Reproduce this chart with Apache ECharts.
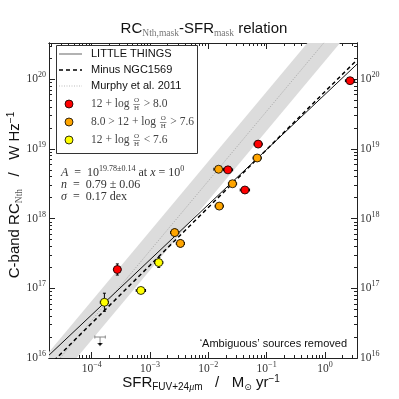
<!DOCTYPE html>
<html><head><meta charset="utf-8">
<script src="https://cdn.jsdelivr.net/npm/echarts@6/dist/echarts.min.js"></script>
<style>html,body{margin:0;padding:0;background:#fff}#c{width:399px;height:399px}</style>
</head><body><div id="c"></div>
<script>
// ---------------- data ----------------
const redSFR   = [2.70, 0.0716, 0.0217, 0.0424, 2.75e-4];
const redRC    = [9.5e19, 1.17e19, 5.0e18, 2.57e18, 1.86e17];
const redXerr  = [0.08, 0.07, 0.08, 0.08, 0.06];
const redYerr  = [0.03, 0.04, 0.03, 0.03, 0.08];

const orangeSFR  = [0.0689, 0.0150, 0.0260, 0.0154, 2.65e-3, 3.32e-3];
const orangeRC   = [7.4e18, 5.1e18, 3.16e18, 1.51e18, 6.3e17, 4.4e17];
const orangeXerr = [0.07, 0.08, 0.07, 0.07, 0.07, 0.07];
const orangeYerr = [0.03, 0.03, 0.03, 0.03, 0.05, 0.05];

const yellowSFR  = [1.41e-3, 6.97e-4, 1.65e-4];
const yellowRC   = [2.34e17, 9.3e16, 6.3e16];
const yellowXerr = [0.07, 0.08, 0.07];
const yellowYerr = [0.07, 0.04, 0.13];

const limitSFR  = [1.39e-4];
const limitRC   = [2.0e16];
const limitXerr = [0.09];

// fit relations (log10 A at x = 1, slope n)
const fitLogA = 19.78, fitN = 0.79;        // LITTLE THINGS
const dashLogA = 19.82, dashN = 0.83;      // Minus NGC1569
const murphyLogA = 20.54, murphyN = 1.0;   // Murphy et al. 2011
const murphyBand = 0.28;                   // dex half-width

const xMajor = [1e-4, 1e-3, 1e-2, 1e-1, 1e0];
const yMajor = [1e16, 1e17, 1e18, 1e19, 1e20];
const xMin = 1.85e-5, xMax = 3.55, yMin = 1e16, yMax = 3.3e20;

// ---------------- helpers ----------------
function minors(lo, hi, kFrom, kTo) {
  const out = [];
  for (let k = kFrom; k <= kTo; k++) for (let m = 2; m <= 9; m++) {
    const v = m * Math.pow(10, k);
    if (v > lo && v < hi) out.push(v);
  }
  return out;
}
const xMinor = minors(xMin, xMax, -5, 0);
const yMinor = minors(yMin, yMax, 16, 20);

function expLabel(v) {
  const e = Math.round(Math.log10(v));
  return '{b|10}{e|' + (e < 0 ? '\u2212' + (-e) : e) + '}';
}
const labRich = {
  b: { fontFamily: 'Liberation Serif', fontSize: 11.5, lineHeight: 16, color: '#333' },
  e: { fontFamily: 'Liberation Serif', fontSize: 8, lineHeight: 8, verticalAlign: 'top', color: '#333' }
};
const axCol = '#222';
function mkX(pos, ticks, len, lab) {
  return {
    type: 'log', logBase: 10, position: pos, min: xMin, max: xMax, gridIndex: 0,
    axisLine: { show: true, onZero: false, lineStyle: { color: axCol, width: 1 } },
    axisTick: { show: true, inside: true, length: len, customValues: ticks, lineStyle: { color: axCol, width: 1 } },
    minorTick: { show: false }, splitLine: { show: false },
    axisLabel: lab ? { show: true, customValues: xMajor, margin: 3, formatter: expLabel, rich: labRich } : { show: false }
  };
}
function mkY(pos, ticks, len, lab) {
  return {
    type: 'log', logBase: 10, position: pos, min: yMin, max: yMax, gridIndex: 0,
    axisLine: { show: true, onZero: false, lineStyle: { color: axCol, width: 1 } },
    axisTick: { show: true, inside: true, length: len, customValues: ticks, lineStyle: { color: axCol, width: 1 } },
    minorTick: { show: false }, splitLine: { show: false },
    axisLabel: lab ? { show: true, customValues: yMajor, margin: 3, formatter: expLabel, rich: labRich } : { show: false }
  };
}
function zip(xs, ys, xe, ye) { return xs.map((x, i) => [x, ys[i], xe ? xe[i] : 0, ye ? ye[i] : 0]); }
function lineData(logA, n) {
  return [xMin, xMax].map(x => [x, Math.pow(10, logA + n * Math.log10(x))]);
}
const ctx = document.createElement('canvas').getContext('2d');
function tw(t, f) { ctx.font = f; return ctx.measureText(t).width; }

const pts = zip(redSFR, redRC, redXerr, redYerr)
  .concat(zip(orangeSFR, orangeRC, orangeXerr, orangeYerr))
  .concat(zip(yellowSFR, yellowRC, yellowXerr, yellowYerr));

function errRender(params, api) {
  const x = api.value(0), y = api.value(1), xe = api.value(2), ye = api.value(3);
  const l = api.coord([x * Math.pow(10, -xe), y]), r = api.coord([x * Math.pow(10, xe), y]);
  const t = api.coord([x, y * Math.pow(10, ye)]), b = api.coord([x, y * Math.pow(10, -ye)]);
  const st = { stroke: '#000', lineWidth: 1 };
  return { type: 'group', children: [
    { type: 'line', shape: { x1: l[0], y1: l[1], x2: r[0], y2: r[1] }, style: st },
    { type: 'line', shape: { x1: l[0], y1: l[1] - 1.5, x2: l[0], y2: l[1] + 1.5 }, style: st },
    { type: 'line', shape: { x1: r[0], y1: r[1] - 1.5, x2: r[0], y2: r[1] + 1.5 }, style: st },
    { type: 'line', shape: { x1: t[0], y1: t[1], x2: b[0], y2: b[1] }, style: st },
    { type: 'line', shape: { x1: t[0] - 1.5, y1: t[1], x2: t[0] + 1.5, y2: t[1] }, style: st },
    { type: 'line', shape: { x1: b[0] - 1.5, y1: b[1], x2: b[0] + 1.5, y2: b[1] }, style: st }
  ]};
}
function limitRender(params, api) {
  const x = api.value(0), y = api.value(1), xe = api.value(2);
  const l = api.coord([x * Math.pow(10, -xe), y]), r = api.coord([x * Math.pow(10, xe), y]);
  const c = api.coord([x, y]), d = api.coord([x, y * Math.pow(10, -0.13)]);
  const st = { stroke: '#888', lineWidth: 1 };
  return { type: 'group', children: [
    { type: 'line', shape: { x1: l[0], y1: l[1], x2: r[0], y2: r[1] }, style: st },
    { type: 'line', shape: { x1: l[0], y1: l[1] - 1.5, x2: l[0], y2: l[1] + 1.5 }, style: st },
    { type: 'line', shape: { x1: r[0], y1: r[1] - 1.5, x2: r[0], y2: r[1] + 1.5 }, style: st },
    { type: 'line', shape: { x1: c[0], y1: c[1], x2: d[0], y2: d[1] }, style: st },
    { type: 'polyline', shape: { points: [[d[0] - 2.5, d[1] - 3], [d[0], d[1]], [d[0] + 2.5, d[1] - 3]] }, style: st }
  ]};
}
function bandRender(params, api) {
  const xs = [xMin, xMax];
  const lo = xs.map(x => api.coord([x, Math.pow(10, murphyLogA - murphyBand + murphyN * Math.log10(x))]));
  const hi = xs.map(x => api.coord([x, Math.pow(10, murphyLogA + murphyBand + murphyN * Math.log10(x))])).reverse();
  return { type: 'polygon', shape: { points: lo.concat(hi) }, style: { fill: '#dcdcdc' } };
}

// ---------------- graphic (legend, titles, notes) ----------------
const serif = '"Liberation Serif"', sans = '"Liberation Sans"';
const G = [];
// legend box
G.push({ type: 'rect', shape: { x: 56.5, y: 45.5, width: 141, height: 108 }, style: { fill: '#fff', stroke: '#333', lineWidth: 1 }, z: 100 });
G.push({ type: 'line', shape: { x1: 59, y1: 54, x2: 82, y2: 54 }, style: { stroke: '#888', lineWidth: 1.3 }, z: 101 });
G.push({ type: 'line', shape: { x1: 59, y1: 70, x2: 82, y2: 70 }, style: { stroke: '#000', lineWidth: 1.5, lineDash: [4, 3] }, z: 101 });
G.push({ type: 'line', shape: { x1: 59, y1: 86, x2: 82, y2: 86 }, style: { stroke: '#aaa', lineWidth: 0.8, lineDash: [1, 1.5] }, z: 101 });
[['LITTLE THINGS', 54], ['Minus NGC1569', 70], ['Murphy et al. 2011', 86]].forEach(([t, y]) => {
  G.push({ type: 'text', x: 91, y: y, style: { text: t, font: '11px ' + sans, fill: '#111', align: 'left', verticalAlign: 'middle' }, z: 101 });
});
function mathEntry(y, color, pre, post) {
  G.push({ type: 'circle', shape: { cx: 69, cy: y, r: 4 }, style: { fill: color, stroke: '#000', lineWidth: 0.8 }, z: 101 });
  const f = '11.5px ' + serif, fs = '7px ' + serif, col = '#444';
  const w1 = tw(pre, f);
  const fx = 91 + w1 + 1, fw = tw('O', fs) + 1.5;
  G.push({ type: 'text', x: 91, y: y, style: { text: pre, font: f, fill: col, align: 'left', verticalAlign: 'middle' }, z: 101 });
  G.push({ type: 'text', x: fx + fw / 2, y: y - 4, style: { text: 'O', font: fs, fill: col, align: 'center', verticalAlign: 'middle' }, z: 101 });
  G.push({ type: 'text', x: fx + fw / 2, y: y + 4.5, style: { text: 'H', font: fs, fill: col, align: 'center', verticalAlign: 'middle' }, z: 101 });
  G.push({ type: 'line', shape: { x1: fx, y1: y + 0.5, x2: fx + fw, y2: y + 0.5 }, style: { stroke: col, lineWidth: 0.6 }, z: 101 });
  G.push({ type: 'text', x: fx + fw + 1, y: y, style: { text: post, font: f, fill: col, align: 'left', verticalAlign: 'middle' }, z: 101 });
}
mathEntry(104, '#ff0000', '12 + log ', ' > 8.0');
mathEntry(122, '#ffa500', '8.0 > 12 + log ', ' > 7.6');
mathEntry(140, '#ffff00', '12 + log ', ' < 7.6');

// title
G.push({ type: 'text', x: 204, y: 29, style: {
  text: '{a|RC}{s|Nth,mask}{a|-SFR}{s|mask}{a| relation}', align: 'center', verticalAlign: 'middle',
  rich: { a: { font: '15px ' + sans, fill: '#111', lineHeight: 18 },
          s: { font: '9.5px ' + serif, fill: '#777', lineHeight: 9, verticalAlign: 'bottom' } } }, z: 100 });
// x title
G.push({ type: 'text', x: 201, y: 383, style: {
  text: '{a|SFR}{s|FUV+24}{si|\u03bc}{s|m}{a|   /   M}{o|\u2299}{a| yr}{p|\u22121}', align: 'center', verticalAlign: 'middle',
  rich: { a: { font: '15px ' + sans, fill: '#111', lineHeight: 18 },
          s: { font: '10px ' + sans, fill: '#111', lineHeight: 10, verticalAlign: 'bottom' },
          si: { font: 'italic 10px ' + serif, fill: '#111', lineHeight: 10, verticalAlign: 'bottom' },
          o: { font: '9px "DejaVu Sans"', fill: '#111', lineHeight: 10, verticalAlign: 'bottom' },
          p: { font: '10px ' + sans, fill: '#111', lineHeight: 10, verticalAlign: 'top' } } }, z: 100 });
// y title
G.push({ type: 'text', x: 15, y: 195, rotation: Math.PI / 2, style: {
  text: '{a|C-band RC}{s|Nth}{a|   /   W Hz}{p|\u22121}', align: 'center', verticalAlign: 'middle',
  rich: { a: { font: '15px ' + sans, fill: '#111', lineHeight: 18 },
          s: { font: '9.5px ' + serif, fill: '#555', lineHeight: 9, verticalAlign: 'bottom' },
          p: { font: '10px ' + sans, fill: '#111', lineHeight: 10, verticalAlign: 'top' } } }, z: 100 });
// fit annotations
const annRich = { a: { font: '12px ' + serif, fill: '#333', lineHeight: 16 },
                  i: { font: 'italic 12px ' + serif, fill: '#333', lineHeight: 16 },
                  p: { font: '8px ' + serif, fill: '#333', lineHeight: 8, verticalAlign: 'top' } };
G.push({ type: 'text', x: 61, y: 173, style: { text: '{i|A}{a|  =  10}{p|19.78\u00b10.14}{a| at }{i|x}{a| = 10}{p|0}', align: 'left', verticalAlign: 'middle', rich: annRich }, z: 100 });
G.push({ type: 'text', x: 61, y: 185, style: { text: '{i|n}{a|  =  0.79 \u00b1 0.06}', align: 'left', verticalAlign: 'middle', rich: annRich }, z: 100 });
G.push({ type: 'text', x: 61, y: 197, style: { text: '{i|\u03c3}{a|  =  0.17 dex}', align: 'left', verticalAlign: 'middle', rich: annRich }, z: 100 });
// note
G.push({ type: 'text', x: 347, y: 344, style: { text: '\u2018Ambiguous\u2019 sources removed', font: '11px ' + sans, fill: '#111', align: 'right', verticalAlign: 'middle' }, z: 100 });

// ---------------- chart ----------------
const chart = echarts.init(document.getElementById('c'), null, { renderer: 'canvas' });
const option = {
  animation: false,
  backgroundColor: '#fff',
  grid: { left: 49, right: 42, top: 43, bottom: 41, containLabel: false },
  xAxis: [mkX('bottom', xMajor, 6, true), mkX('bottom', xMinor, 3, false), mkX('top', xMajor, 6, false), mkX('top', xMinor, 3, false)],
  yAxis: [mkY('left', yMajor, 6, true), mkY('left', yMinor, 3, false), mkY('right', yMajor, 6, true), mkY('right', yMinor, 3, false)],
  series: [
    { type: 'custom', name: 'band', clip: true, z: 1, silent: true, data: [[1, 1e18]], renderItem: bandRender },
    { type: 'line', name: 'Murphy et al. 2011', z: 2, showSymbol: false, clip: true, data: lineData(murphyLogA, murphyN),
      lineStyle: { color: '#999', width: 0.8, type: [1, 1.5] } },
    { type: 'line', name: 'LITTLE THINGS', z: 3, showSymbol: false, clip: true, data: lineData(fitLogA, fitN),
      lineStyle: { color: '#111', width: 1 } },
    { type: 'line', name: 'Minus NGC1569', z: 3, showSymbol: false, clip: true, data: lineData(dashLogA, dashN),
      lineStyle: { color: '#000', width: 1.5, type: [4, 3] } },
    { type: 'custom', name: 'err', clip: true, z: 4, data: pts, encode: { x: 0, y: 1 }, renderItem: errRender },
    { type: 'custom', name: 'limit', clip: true, z: 4, data: zip(limitSFR, limitRC, limitXerr, null), encode: { x: 0, y: 1 }, renderItem: limitRender },
    { type: 'scatter', name: 'red', z: 5, symbolSize: 8, data: zip(redSFR, redRC).map(d => [d[0], d[1]]),
      itemStyle: { color: '#ff0000', borderColor: '#000', borderWidth: 0.8, opacity: 1 } },
    { type: 'scatter', name: 'orange', z: 5, symbolSize: 8, data: zip(orangeSFR, orangeRC).map(d => [d[0], d[1]]),
      itemStyle: { color: '#ffa500', borderColor: '#000', borderWidth: 0.8, opacity: 1 } },
    { type: 'scatter', name: 'yellow', z: 5, symbolSize: 8, data: zip(yellowSFR, yellowRC).map(d => [d[0], d[1]]),
      itemStyle: { color: '#ffff00', borderColor: '#000', borderWidth: 0.8, opacity: 1 } }
  ],
  graphic: G
};
chart.setOption(option);
</script>
</body></html>
